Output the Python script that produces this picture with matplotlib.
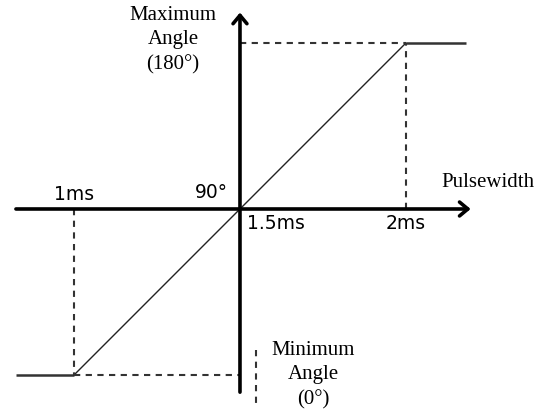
import matplotlib.pyplot as plt

# servo response: pulse width (ms) -> shaft angle (deg)
pulse_ms = [0.825, 1.0, 1.5, 2.0, 2.18]
angle_deg = [0, 0, 90, 180, 180]

tick_ms = [1.0, 1.5, 2.0]
tick_labels = ['1ms', '1.5ms', '2ms']

fig = plt.figure(figsize=(5.49, 4.12), dpi=100)
ax = fig.add_axes([0, 0, 1, 1])
ax.set_xlim(0.777, 2.431)
ax.set_ylim(-20.06, 203.3)
ax.axis('off')

serif = 'Liberation Serif'
sans = 'DejaVu Sans'
dash = dict(color='#333333', lw=1.5, linestyle=(0, (3, 2.6)))

# flat ends and the linear ramp
ax.plot(pulse_ms[:2], angle_deg[:2], color='#333333', lw=1.8, solid_capstyle='butt')
ax.plot(pulse_ms[1:4], angle_deg[1:4], color='#222222', lw=1.0)
ax.plot(pulse_ms[3:], angle_deg[3:], color='#333333', lw=1.8, solid_capstyle='butt')

# guide lines
ax.plot([tick_ms[0], tick_ms[0]], [angle_deg[2], angle_deg[0]], **dash)
ax.plot([tick_ms[0], tick_ms[1]], [angle_deg[0], angle_deg[0]], **dash)
ax.plot([tick_ms[2], tick_ms[2]], [angle_deg[2], angle_deg[-1]], **dash)
ax.plot([tick_ms[1], tick_ms[2]], [angle_deg[-1], angle_deg[-1]], **dash)
ax.plot([1.548, 1.548], [13.5, -17.5], **dash)

# axes with open arrow heads
arrow = dict(arrowstyle='->,head_length=0.6,head_width=0.5', lw=2.6, color='black',
             shrinkA=0, shrinkB=0)
ax.annotate('', xy=(2.195, 90), xytext=(0.825, 90), arrowprops=arrow)
ax.annotate('', xy=(1.5, 196.5), xytext=(1.5, -9.3), arrowprops=arrow)

# tick labels
ax.text(tick_ms[0], 97.6, tick_labels[0], family=sans, fontsize=13.5, ha='center', va='center')
ax.text(1.521, 82.4, tick_labels[1], family=sans, fontsize=13.5, ha='left', va='center')
ax.text(tick_ms[2], 82.4, tick_labels[2], family=sans, fontsize=13.5, ha='center', va='center')
ax.text(1.464, 99.2, '90°', family=sans, fontsize=13.5, ha='right', va='center')

# annotations
ax.text(1.298, 181.6, 'Maximum\nAngle\n(180°)', family=serif, fontsize=15,
        ha='center', va='center', linespacing=1.4)
ax.text(1.72, 0.0, 'Minimum\nAngle\n(0°)', family=serif, fontsize=15,
        ha='center', va='center', linespacing=1.4)
ax.text(2.247, 104.1, 'Pulsewidth', family=serif, fontsize=15, ha='center', va='center')

fig.savefig('out.png', dpi=100)
